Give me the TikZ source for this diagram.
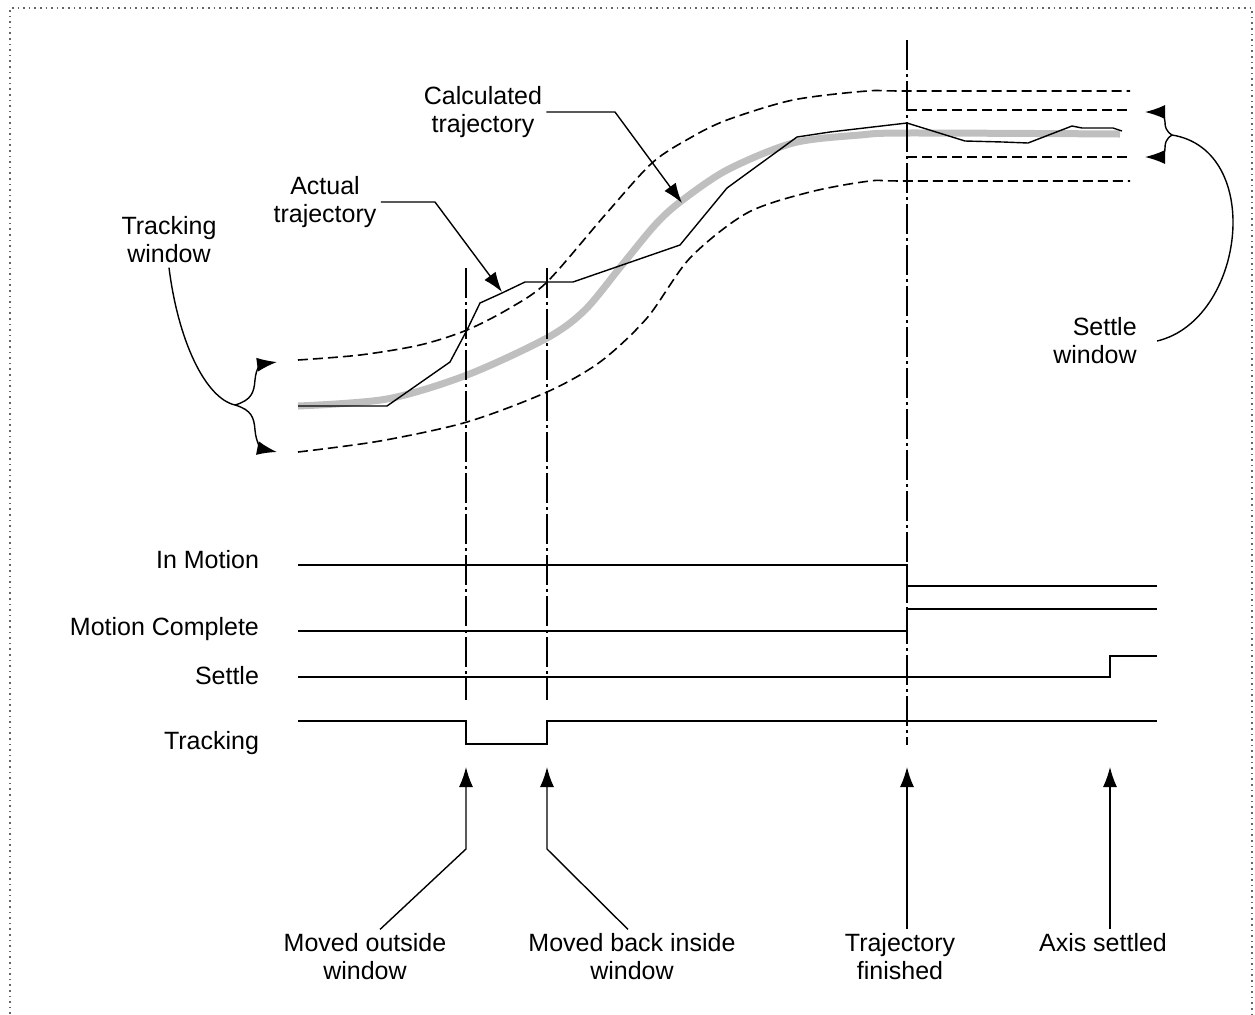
\documentclass[tikz,border=0pt]{standalone}
\usepackage{fontspec}
\setmainfont{Liberation Sans}
\usetikzlibrary{arrows.meta,calc}

\begin{document}
\begin{tikzpicture}[x=0.5pt,y=-0.5pt,
    font=\fontsize{12.5}{14}\selectfont,
    sig/.style={line width=1pt},
    thinline/.style={line width=0.7pt},
    window/.style={line width=0.8pt,dash pattern=on 5pt off 2.5pt},
    marker/.style={line width=0.8pt,dash pattern=on 15pt off 2pt on 1.5pt off 2pt},
    pointer/.style={line width=0.7pt,-{Latex[length=10pt,width=7pt]}},
    lbl/.style={align=center,inner sep=2pt}]

    % frame
    \useasboundingbox (0,0) rectangle (1255,1014);
    \draw[black!60,dotted,line width=0.8pt] (10,1014) -- (10,8) -- (1252,8) -- (1252,1014);

    % calculated trajectory (grey)
    \draw[black!25,line width=3.5pt] plot[smooth,tension=0.5] coordinates {(298,406) (387,399) (467,375) (547,338) (585,310) (622,265) (655,225) (680,202) (727,170) (793,143) (860,135) (907,133) (1120,134)};

    % tracking window
    \draw[window] plot[smooth,tension=0.5] coordinates {(298,360) (360,355) (420,345) (467,330) (510,308) (547,282) (605,215) (652,163) (690,138) (727,120) (793,100) (867,91) (907,91) (1130,91)};
    \draw[window] plot[smooth,tension=0.5] coordinates {(298,452) (380,441) (467,422) (547,392) (600,362) (647,318) (690,258) (747,213) (810,192) (870,181) (907,181) (1130,181)};

    % settle window
    \draw[window] (907,110) -- (1130,110);
    \draw[window] (907,157) -- (1130,157);

    % actual trajectory
    \draw[thinline] (298,406) -- (387,406) -- (450,362) -- (467,330) -- (480,303) -- (502,293) -- (525,282) -- (573,282) -- (680,245) -- (727,188) -- (797,137) -- (830,132) -- (907,123) -- (965,141) -- (1003,142) -- (1028,143) -- (1072,126) -- (1082,128) -- (1113,128) -- (1122,131);

    % event markers
    \draw[marker] (466,268) -- (466,700);
    \draw[marker] (547,268) -- (547,700);
    \draw[marker] (907,40) -- (907,745);

    % signals
    \node[anchor=east] (inmotion) at (266,560) {In Motion};
    \node[anchor=east] (complete) at (266,629) {Motion Complete};
    \node[anchor=east] (settle) at (266,676) {Settle};
    \node[anchor=east] (tracking) at (266,743) {Tracking};
    \draw[sig] (298,565) -- (907,565) -- (907,586) -- (1157,586);
    \draw[sig] (298,631) -- (907,631) -- (907,609) -- (1157,609);
    \draw[sig] (298,677) -- (1110,677) -- (1110,656) -- (1157,656);
    \draw[sig] (298,721) -- (466,721) -- (466,744) -- (547,744) -- (547,721) -- (1157,721);

    % callouts on the curves
    \node[lbl] (calc) at (483,112) {Calculated\\trajectory};
    \node[lbl] (actual) at (325,202) {Actual\\trajectory};
    \node[lbl] (trackwin) at (169,240) {Tracking\\window};
    \node[lbl,align=right] (settlewin) at (1095,341) {Settle\\window};
    \coordinate (calctip) at (682,203);
    \coordinate (actualtip) at (502,292);
    \coordinate (tw) at (235,405);
    \coordinate (sw) at (1172,135);
    \draw[pointer] (calc.east) -- (615,112) -- (calctip);
    \draw[pointer] (actual.east) -- (435,202) -- (actualtip);
    \draw[thinline] (trackwin.south) .. controls (178,340) and (205,398) .. (tw);
    \draw[pointer] (tw) .. controls (252,400) and (254,392) .. (255,380) .. controls (256,367) and (262,364) .. (277,362);
    \draw[pointer] (tw) .. controls (252,410) and (254,418) .. (255,430) .. controls (256,443) and (262,449) .. (277,452);
    \draw[thinline] ([xshift=8pt]settlewin.east) .. controls (1245,320) and (1265,150) .. (sw);
    \draw[pointer] (sw) .. controls (1166,131) and (1165,127) .. (1165,122) .. controls (1165,115) and (1160,112) .. (1145,112);
    \draw[pointer] (sw) .. controls (1166,139) and (1165,143) .. (1165,148) .. controls (1165,155) and (1160,157) .. (1145,157);

    % events
    \node[lbl] (outside) at (365,957) {Moved outside\\window};
    \node[lbl] (inside) at (632,957) {Moved back inside\\window};
    \node[lbl] (finished) at (900,957) {Trajectory\\finished};
    \node[lbl] (settled) at (1103,943) {Axis settled};
    \coordinate (t1) at (466,767);
    \coordinate (t2) at (547,767);
    \coordinate (t3) at (907,767);
    \coordinate (t4) at (1110,767);
    \draw[pointer] ([xshift=7.5pt]outside.north) -- (466,849) -- (t1);
    \draw[pointer] ([xshift=-2pt]inside.north) -- (547,849) -- (t2);
    \draw[pointer] (finished.north -| t3) -- (t3);
    \draw[pointer] (settled.north -| t4) -- (t4);
\end{tikzpicture}
\end{document}
